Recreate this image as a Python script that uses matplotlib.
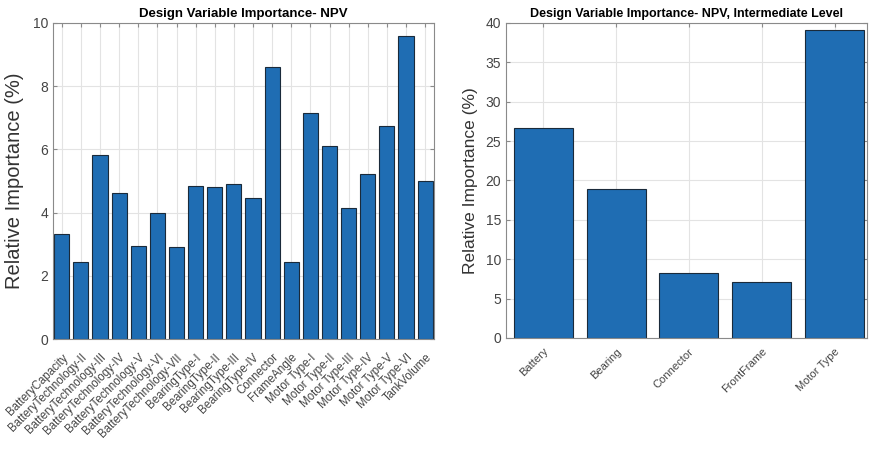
import matplotlib
matplotlib.use("Agg")
import matplotlib.pyplot as plt
import numpy as np

plt.rcParams['font.family'] = ['Liberation Sans', 'DejaVu Sans']

left_labels = ["BatteryCapacity", "BatteryTechnology-II", "BatteryTechnology-III",
               "BatteryTechnology-IV", "BatteryTechnology-V", "BatteryTechnology-VI",
               "BatteryTechnology-VII", "BearingType-I", "BearingType-II",
               "BearingType-III", "BearingType-IV", "Connector", "FrameAngle",
               "Motor Type-I", "Motor Type-II", "Motor Type-III", "Motor Type-IV",
               "Motor Type-V", "Motor Type-VI", "TankVolume"]
left_values = [3.33, 2.44, 5.81, 4.63, 2.94, 3.97, 2.91, 4.85, 4.81, 4.89,
               4.45, 8.61, 2.44, 7.15, 6.12, 4.13, 5.21, 6.74, 9.59, 4.99]

right_labels = ["Battery", "Bearing", "Connector", "FrontFrame", "Motor Type"]
right_values = [26.7, 18.9, 8.26, 7.1, 39.1]

bar_color = '#1f6db3'
edge_color = '#1a2a3a'
tick_color = '#444444'
spine_color = '#8a8a8a'

fig = plt.figure(figsize=(8.71, 4.66), dpi=100)
ax1 = fig.add_axes([0.061, 0.2725, 0.437, 0.6785])
ax2 = fig.add_axes([0.581, 0.2747, 0.414, 0.6763])

def style(ax):
    ax.set_axisbelow(True)
    ax.grid(True, color='#e3e3e3', linewidth=0.8)
    for s in ax.spines.values():
        s.set_color(spine_color)
        s.set_linewidth(0.8)
    ax.tick_params(direction='in', top=True, right=True, length=3,
                   color=spine_color, labelcolor=tick_color)

x1 = np.arange(1, len(left_values) + 1)
ax1.bar(x1, left_values, width=0.79, color=bar_color, edgecolor=edge_color, linewidth=0.8)
ax1.set_xlim(0.55, 20.45)
ax1.set_ylim(0, 10)
ax1.set_yticks([0, 2, 4, 6, 8, 10])
ax1.set_xticks(x1)
ax1.set_xticklabels(left_labels, rotation=45, ha='right', va='top',
                    rotation_mode='anchor', fontsize=8.3)
style(ax1)
ax1.tick_params(axis='y', labelsize=10)
ax1.tick_params(axis='x', pad=9)
ax1.set_ylabel("Relative Importance (%)", fontsize=14.5, color='#333333')
ax1.yaxis.set_label_coords(-0.076, 0.5)
ax1.set_title("Design Variable Importance- NPV", fontsize=9.5, fontweight='bold',
              pad=4, family=['Liberation Sans Narrow', 'Liberation Sans', 'DejaVu Sans'])

x2 = np.arange(1, len(right_values) + 1)
ax2.bar(x2, right_values, width=0.81, color=bar_color, edgecolor=edge_color, linewidth=0.8)
ax2.set_xlim(0.49, 5.44)
ax2.set_ylim(0, 40)
ax2.set_yticks(np.arange(0, 41, 5))
ax2.set_xticks(x2)
ax2.set_xticklabels(right_labels, rotation=45, ha='right', va='top',
                    rotation_mode='anchor', fontsize=8)
style(ax2)
ax2.tick_params(axis='y', labelsize=10)
ax2.tick_params(axis='x', pad=6)
ax2.set_ylabel("Relative Importance (%)", fontsize=12.5, color='#333333')
ax2.yaxis.set_label_coords(-0.078, 0.5)
ax2.set_title("Design Variable Importance- NPV, Intermediate Level", fontsize=9, fontweight='bold',
              pad=4, family=['Liberation Sans Narrow', 'Liberation Sans', 'DejaVu Sans'])

fig.savefig("out.png", dpi=100)
